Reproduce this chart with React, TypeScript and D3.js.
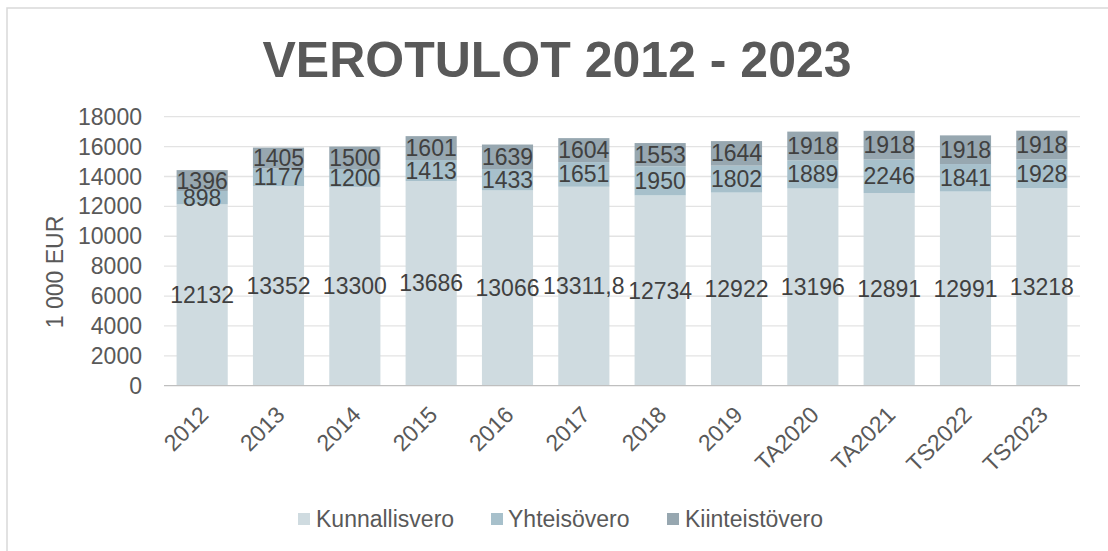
import React from "react";
import * as d3 from "d3";

const categories = ["2012", "2013", "2014", "2015", "2016", "2017", "2018", "2019", "TA2020", "TA2021", "TS2022", "TS2023"];
const kunnallisvero = [12132, 13352, 13300, 13686, 13066, 13311.8, 12734, 12922, 13196, 12891, 12991, 13218];
const yhteisovero = [898, 1177, 1200, 1413, 1433, 1651, 1950, 1802, 1889, 2246, 1841, 1928];
const kiinteistovero = [1396, 1405, 1500, 1601, 1639, 1604, 1553, 1644, 1918, 1918, 1918, 1918];
const seriesNames = ["Kunnallisvero", "Yhteisövero", "Kiinteistövero"];
const yTicks = [0, 2000, 4000, 6000, 8000, 10000, 12000, 14000, 16000, 18000];

const colors = ["#cfdbe0", "#a7c0cb", "#97a7b0"];
const FONT = "'Liberation Sans', Arial, sans-serif";

export default function App() {
  const W = 1108, H = 551;
  const left = 164, right = 1080, top = 116.7, bottom = 385.7;
  const x = d3.scaleBand<string>().domain(categories).range([left, right]).paddingInner(0.33).paddingOuter(0.165);
  const y = d3.scaleLinear().domain([0, 18000]).range([bottom, top]);

  const rows = categories.map((c, i) => ({ cat: c, k: kunnallisvero[i], y: yhteisovero[i], t: kiinteistovero[i] }));
  const keys = ["k", "y", "t"];
  const stack = d3.stack<any>().keys(keys)(rows);
  const fmt = (v: number) => String(v).replace(".", ",");

  const legendItems = [
    { sq: 298, tx: 316 },
    { sq: 491, tx: 508 },
    { sq: 667, tx: 685 },
  ];

  return (
    <svg width={W} height={H} style={{ position: "absolute", left: 0, top: 0, background: "#fff" }} fontFamily={FONT}>
      <rect x={0} y={0} width={W} height={H} fill="#fff" />
      <rect x={7} y={8} width={W + 20} height={H + 20} fill="#fff" stroke="#d9d9d9" strokeWidth={1.5} />
      <text x={557} y={77} textAnchor="middle" fontSize={50} fontWeight="bold" fill="#595959">VEROTULOT 2012 - 2023</text>

      {yTicks.map((t) => (
        <g key={t}>
          {t > 0 && <line x1={left} x2={right} y1={y(t)} y2={y(t)} stroke="#e3e3e3" strokeWidth={1.3} />}
          <text x={142} y={y(t)} dy="0.35em" textAnchor="end" fontSize={23} fill="#595959">{t}</text>
        </g>
      ))}

      {stack.map((s, si) => (
        <g key={si}>
          {s.map((d, i) => (
            <rect key={i} x={x(categories[i])} width={x.bandwidth()} y={y(d[1])} height={y(d[0]) - y(d[1])} fill={colors[si]} />
          ))}
        </g>
      ))}

      <line x1={left} x2={right} y1={bottom} y2={bottom} stroke="#bfbfbf" strokeWidth={1.3} />

      {stack.map((s, si) => (
        <g key={"l" + si}>
          {s.map((d, i) => (
            <text key={i} x={(x(categories[i]) as number) + x.bandwidth() / 2} y={y((d[0] + d[1]) / 2)} dy="0.35em" textAnchor="middle" fontSize={23} fill="#404040">
              {fmt(d[1] - d[0])}
            </text>
          ))}
        </g>
      ))}

      {categories.map((c) => {
        const cx = (x(c) as number) + x.bandwidth() / 2;
        return (
          <text key={c} transform={`translate(${cx - 4},${bottom + 19}) rotate(-45)`} textAnchor="end" dy="0.71em" fontSize={23} fill="#595959">{c}</text>
        );
      })}

      <text transform={`translate(63,272) rotate(-90)`} textAnchor="middle" fontSize={23} fill="#595959">1 000 EUR</text>

      {seriesNames.map((n, i) => (
        <g key={n}>
          <rect x={legendItems[i].sq} y={513} width={12} height={12} fill={colors[i]} />
          <text x={legendItems[i].tx} y={519} dy="0.35em" fontSize={23} fill="#595959">{n}</text>
        </g>
      ))}
    </svg>
  );
}
